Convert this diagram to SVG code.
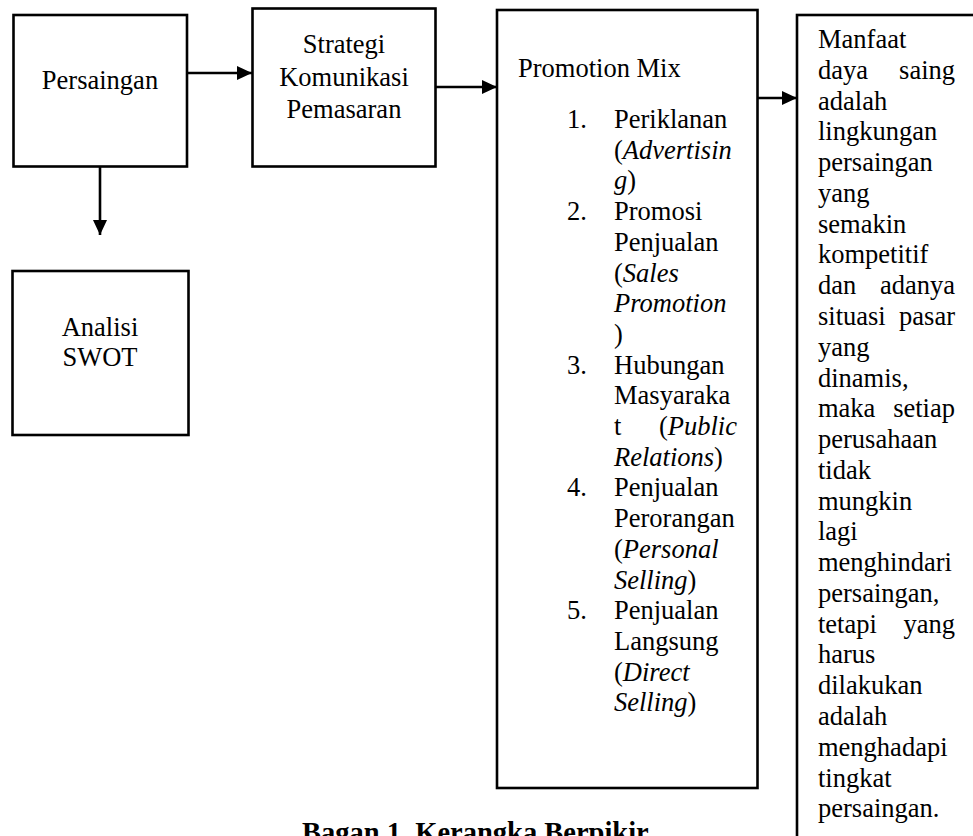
<svg xmlns="http://www.w3.org/2000/svg" width="973" height="836" viewBox="0 0 973 836">
<style>
text{font-family:"Liberation Serif","Times New Roman",serif;font-size:26.5px;fill:#000}
.box{fill:#fff;stroke:#000;stroke-width:2.6}
.c{text-anchor:middle}
.e{text-anchor:end}
.i{font-style:italic}
.ln{stroke:#000;stroke-width:2.6;fill:none}
.cap{font-weight:bold;font-size:28.5px}
</style>
<defs>
<marker id="ah" markerUnits="userSpaceOnUse" markerWidth="16" markerHeight="16" refX="15" refY="7" orient="auto">
<path d="M0,0 L15,7 L0,14 z" fill="#000"/>
</marker>
</defs>
<rect width="973" height="836" fill="#fff"/>
<g id="connectors">
<line class="ln" x1="187" y1="73" x2="252" y2="73" marker-end="url(#ah)"/>
<line class="ln" x1="436" y1="87" x2="497" y2="87" marker-end="url(#ah)"/>
<line class="ln" x1="758" y1="98" x2="797" y2="98" marker-end="url(#ah)"/>
<line class="ln" x1="100" y1="167" x2="100" y2="235" marker-end="url(#ah)"/>
</g>
<g id="persaingan">
<rect class="box" x="13.5" y="15" width="173.5" height="151.5"/>
<text class="c" x="100" y="89">Persaingan</text>
</g>
<g id="strategi">
<rect class="box" x="252.5" y="8.5" width="183" height="158"/>
<text class="c" x="344" y="52.5">Strategi</text>
<text class="c" x="344" y="85.5">Komunikasi</text>
<text class="c" x="344" y="118">Pemasaran</text>
</g>
<g id="swot">
<rect class="box" x="12.5" y="271" width="176" height="164"/>
<text class="c" x="100" y="336">Analisi</text>
<text class="c" x="100" y="365.5">SWOT</text>
</g>
<g id="promotion">
<rect class="box" x="497" y="10" width="260.5" height="778"/>
<text x="518" y="77">Promotion Mix</text>
<text x="567" y="128">1.</text>
<text x="614" y="128">Periklanan</text>
<text x="614" y="158.7">(<tspan class="i">Advertisin</tspan></text>
<text x="614" y="189.4"><tspan class="i">g</tspan>)</text>
<text x="567" y="220.1">2.</text>
<text x="614" y="220.1">Promosi</text>
<text x="614" y="250.8">Penjualan</text>
<text x="614" y="281.5">(<tspan class="i">Sales</tspan></text>
<text x="614" y="312.2" class="i">Promotion</text>
<text x="614" y="342.9">)</text>
<text x="567" y="373.6">3.</text>
<text x="614" y="373.6">Hubungan</text>
<text x="614" y="404.3">Masyaraka</text>
<text x="614" y="435">t</text>
<text class="e" x="737" y="435">(<tspan class="i">Public</tspan></text>
<text x="614" y="465.7"><tspan class="i">Relations</tspan>)</text>
<text x="567" y="496.4">4.</text>
<text x="614" y="496.4">Penjualan</text>
<text x="614" y="527.1">Perorangan</text>
<text x="614" y="557.8">(<tspan class="i">Personal</tspan></text>
<text x="614" y="588.5"><tspan class="i">Selling</tspan>)</text>
<text x="567" y="619.2">5.</text>
<text x="614" y="619.2">Penjualan</text>
<text x="614" y="649.9">Langsung</text>
<text x="614" y="680.6">(<tspan class="i">Direct</tspan></text>
<text x="614" y="711.3"><tspan class="i">Selling</tspan>)</text>
</g>
<g id="manfaat">
<rect class="box" x="797" y="15" width="200" height="840"/>
<text x="818" y="48">Manfaat</text>
<text x="818" y="78.8">daya</text><text class="e" x="955" y="78.8">saing</text>
<text x="818" y="109.5">adalah</text>
<text x="818" y="140.3">lingkungan</text>
<text x="818" y="171.1">persaingan</text>
<text x="818" y="201.9">yang</text>
<text x="818" y="232.6">semakin</text>
<text x="818" y="263.4">kompetitif</text>
<text x="818" y="294.2">dan</text><text class="e" x="955" y="294.2">adanya</text>
<text x="818" y="324.9">situasi</text><text class="e" x="955" y="324.9">pasar</text>
<text x="818" y="355.7">yang</text>
<text x="818" y="386.5">dinamis,</text>
<text x="818" y="417.2">maka</text><text class="e" x="955" y="417.2">setiap</text>
<text x="818" y="448">perusahaan</text>
<text x="818" y="478.8">tidak</text>
<text x="818" y="509.6">mungkin</text>
<text x="818" y="540.3">lagi</text>
<text x="818" y="571.1">menghindari</text>
<text x="818" y="601.9">persaingan,</text>
<text x="818" y="632.6">tetapi</text><text class="e" x="955" y="632.6">yang</text>
<text x="818" y="663.4">harus</text>
<text x="818" y="694.2">dilakukan</text>
<text x="818" y="724.9">adalah</text>
<text x="818" y="755.7">menghadapi</text>
<text x="818" y="786.5">tingkat</text>
<text x="818" y="817.3">persaingan.</text>
</g>
<text class="cap" x="302" y="842">Bagan 1. Kerangka Berpikir</text>
</svg>
